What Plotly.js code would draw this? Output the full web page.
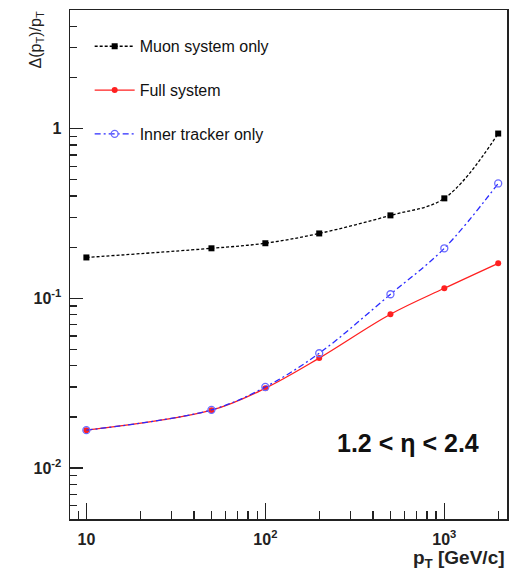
<!DOCTYPE html>
<html>
<head>
<meta charset="utf-8">
<script src="https://cdn.plot.ly/plotly-3.0.1.min.js"></script>
<style>html,body{margin:0;padding:0;background:#fff;}#chart{width:515px;height:570px;}</style>
</head>
<body>
<div id="chart"></div>
<script>
// Data
const pt = [10, 50, 100, 200, 500, 1000, 2000];
const muonOnly = [0.174, 0.197, 0.211, 0.241, 0.308, 0.388, 0.935];
const fullSystem = [0.0167, 0.0219, 0.0295, 0.0444, 0.0805, 0.1145, 0.1607];
const innerTracker = [0.0167, 0.0220, 0.0300, 0.0474, 0.1056, 0.197, 0.475];

const xTickVals = [10, 100, 1000];
const xTickText = ['10', '10<sup>2</sup>', '10<sup>3</sup>'];
const yTickVals = [0.01, 0.1, 1];
const yTickText = ['10<sup>-2</sup>', '10<sup>-1</sup>', '1'];

function minorTicks(lo, hi) {
  const out = [];
  for (let d = Math.floor(Math.log10(lo)); d <= Math.ceil(Math.log10(hi)); d++) {
    for (let m = 2; m <= 9; m++) {
      const v = m * Math.pow(10, d);
      if (v >= lo && v <= hi) out.push(v);
    }
  }
  return out;
}

const FONT = 'Liberation Sans, Arial, sans-serif';

const traces = [
  {
    x: pt, y: muonOnly, name: 'Muon system only', mode: 'lines+markers',
    line: {color: '#000', width: 1.3, dash: '3px,2px', shape: 'spline'},
    marker: {symbol: 'square', size: 6, color: '#000'},
    legendgroup: 'a'
  },
  {
    x: pt, y: fullSystem, name: 'Full system', mode: 'lines+markers',
    line: {color: '#ff2020', width: 1.3, shape: 'spline'},
    marker: {symbol: 'circle', size: 6, color: '#ff2020'},
    legendgroup: 'b'
  },
  {
    x: pt, y: innerTracker, name: 'Inner tracker only', mode: 'lines+markers',
    line: {color: '#2a2aff', width: 1.3, dash: '6px,3px,2px,3px', shape: 'spline'},
    marker: {symbol: 'circle-open', size: 7, color: '#6a6aff', line: {width: 1.3}},
    legendgroup: 'c'
  }
];

const layout = {
  width: 515, height: 570,
  margin: {l: 70, r: 8, t: 10, b: 51},
  paper_bgcolor: '#fff', plot_bgcolor: '#fff',
  showlegend: true,
  legend: {
    x: 0.045, y: 0.962, xanchor: 'left', yanchor: 'top',
    font: {family: FONT, size: 16, color: '#111'},
    bgcolor: 'rgba(0,0,0,0)', traceorder: 'grouped', tracegroupgap: 20,
    itemwidth: 40
  },
  xaxis: {
    type: 'log', range: [Math.log10(8.1), Math.log10(2240)],
    showgrid: false, zeroline: false,
    showline: true, linecolor: '#222', linewidth: 1.5, mirror: true,
    ticks: 'inside', ticklen: 16, tickwidth: 1.3, tickcolor: '#222',
    tickmode: 'array', tickvals: xTickVals, ticktext: xTickText,
    tickfont: {family: FONT, size: 16, color: '#222', weight: 'bold'},
    ticklabelstandoff: 5,
    minor: {tickmode: 'array', tickvals: minorTicks(8.1, 2240), ticks: 'inside', ticklen: 8, tickwidth: 1.3, tickcolor: '#222', showgrid: false}
  },
  yaxis: {
    type: 'log', range: [Math.log10(0.005), Math.log10(5)],
    showgrid: false, zeroline: false,
    showline: true, linecolor: '#222', linewidth: 1.5, mirror: true,
    ticks: 'inside', ticklen: 13, tickwidth: 1.3, tickcolor: '#222',
    tickmode: 'array', tickvals: yTickVals, ticktext: yTickText,
    tickfont: {family: FONT, size: 16, color: '#222', weight: 'bold'},
    ticklabelstandoff: 4,
    minor: {tickmode: 'array', tickvals: minorTicks(0.005, 5), ticks: 'inside', ticklen: 7, tickwidth: 1.3, tickcolor: '#222', showgrid: false}
  },
  annotations: [
    {
      text: '1.2 &lt; η &lt; 2.4', xref: 'paper', yref: 'paper',
      x: (408 - 70) / 437, y: (519 - 443) / 509, xanchor: 'center', yanchor: 'middle',
      showarrow: false, font: {family: FONT, size: 25, color: '#111', weight: 'bold'}
    },
    {
      text: 'Δ(p<sub>T</sub>)/p<sub>T</sub>', xref: 'paper', yref: 'paper',
      x: (36 - 70) / 437, y: 1.0, xanchor: 'center', yanchor: 'top', textangle: -90,
      showarrow: false, font: {family: FONT, size: 16, color: '#222'}
    },
    {
      text: 'p<sub>T</sub> [GeV/c]', xref: 'paper', yref: 'paper',
      x: 1.0, y: 0, xanchor: 'right', yanchor: 'middle', yshift: -40,
      showarrow: false, font: {family: FONT, size: 19, color: '#222', weight: 'bold'}
    }
  ]
};

Plotly.newPlot('chart', traces, layout, {staticPlot: true, displayModeBar: false});
</script>
</body>
</html>
